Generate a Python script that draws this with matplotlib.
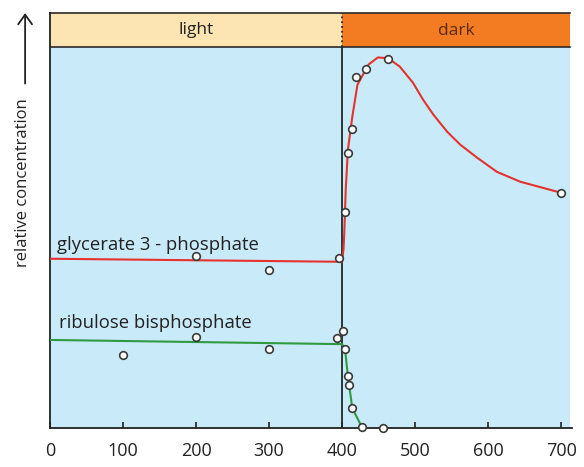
import matplotlib
matplotlib.use('Agg')
import matplotlib.pyplot as plt

# values (time along x, relative concentration 0-100 on y)
gp_x = [200, 300, 396, 404, 408, 414, 419, 433, 463, 700]
gp_y = [45, 41.5, 44.6, 56.7, 72.2, 78.5, 92.1, 94.2, 96.9, 61.7]
gp_line_x = [0, 400, 402, 403, 405, 408, 414, 421, 436, 449, 463, 479, 497, 511, 525, 544, 562, 585, 612, 644, 675, 700]
gp_line_y = [44.4, 43.6, 47, 51, 62.5, 73, 81.6, 90, 95.3, 97.2, 97, 94.8, 90.6, 86.1, 82.2, 77.7, 74.3, 70.9, 67.2, 64.6, 63.0, 61.7]

rb_x = [100, 200, 300, 393, 401, 404, 408, 410, 414, 427, 456]
rb_y = [19.2, 23.9, 20.7, 23.6, 25.5, 20.7, 13.6, 11.3, 5.2, 0.3, 0]
rb_line_x = [0, 400, 404, 408, 414, 427]
rb_line_y = [23.1, 22, 20.7, 13.6, 5.2, 0.3]

xticks = [0, 100, 200, 300, 400, 500, 600, 700]
phases = ['light', 'dark']
switch = 400
x_end = 712

font = 'Open Sans'
plt.rcParams['font.family'] = [font, 'DejaVu Sans']

fig = plt.figure(figsize=(5.84, 4.67), dpi=100)
ax = fig.add_axes([0.0856, 0.0835, 0.894, 0.889])
ax.set_xlim(0, 715)
ax.set_ylim(0, 108.9)

# backgrounds
ax.fill_between([0, x_end], 0, 100, color='#c9ebf9', zorder=0, lw=0)
ax.fill_between([0, switch], 100, 108.9, color='#fde4b3', zorder=0, lw=0)
ax.fill_between([switch, x_end], 100, 108.9, color='#f37b22', zorder=0, lw=0)
ax.plot([0, x_end], [100, 100], color='#2a2a2a', lw=1.2, zorder=2)
ax.plot([0, x_end], [108.8, 108.8], color='#2a2a2a', lw=1.2, zorder=2, clip_on=False)
ax.text(switch / 2, 104.4, phases[0], ha='center', va='center', fontsize=12.5, color='#222222')
ax.text((switch + x_end) / 2, 104.2, phases[1], ha='center', va='center', fontsize=12.5, color='#5a2a10')

# light/dark divider
ax.plot([switch, switch], [0, 100], color='#1f2a2a', lw=1.3, zorder=2)
ax.plot([switch, switch], [100, 108.9], color='#1f2a2a', lw=1.3, ls=':', zorder=2)

# series
ax.plot(gp_line_x, gp_line_y, color='#e5322d', lw=1.5, zorder=3)
ax.plot(rb_line_x, rb_line_y, color='#2f9a3f', lw=1.5, zorder=3)
ax.plot(gp_x, gp_y, 'o', ms=5.5, mfc='white', mec='#3a3a3a', mew=1.2, zorder=4, clip_on=False)
ax.plot(rb_x, rb_y, 'o', ms=5.5, mfc='white', mec='#3a3a3a', mew=1.2, zorder=4, clip_on=False)

ax.text(9, 46.7, 'glycerate 3 - phosphate', fontsize=13.3, color='#222222')
ax.text(13, 26.2, 'ribulose bisphosphate', fontsize=13.3, color='#222222')

# axes
for side in ['top', 'right']:
    ax.spines[side].set_visible(False)
ax.spines['left'].set_color('#222222')
ax.spines['left'].set_linewidth(1.3)
ax.spines['bottom'].set_color('#222222')
ax.spines['bottom'].set_linewidth(1.3)
ax.set_yticks([])
ax.set_xticks(xticks)
ax.tick_params(axis='x', direction='in', length=4, width=1.2, pad=10,
               labelsize=13, colors='#222222')

# y label with arrow
fig.text(0.040, 0.61, 'relative concentration', rotation=90, ha='center', va='center',
         fontsize=12, color='#222222')
fig.add_artist(matplotlib.patches.FancyArrowPatch((0.043, 0.815), (0.043, 0.978),
               transform=fig.transFigure, arrowstyle='->,head_length=7,head_width=5',
               color='#222222', lw=1.3))

fig.savefig('out.png', dpi=100, facecolor='white')
